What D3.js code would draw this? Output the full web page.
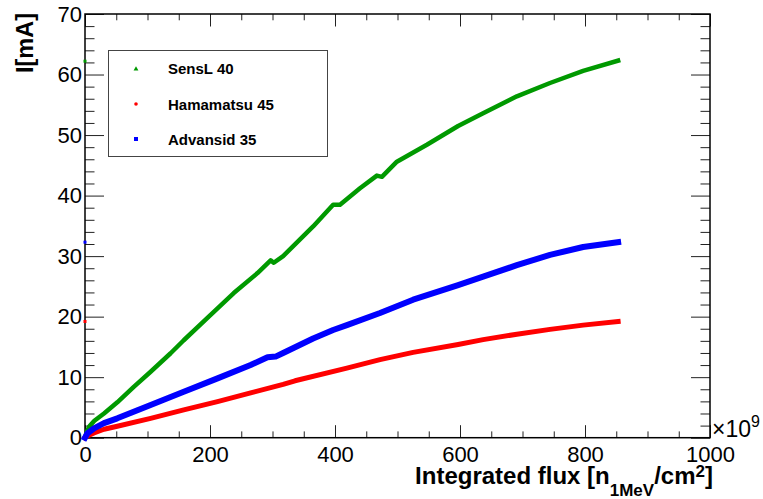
<!DOCTYPE html>
<html><head><meta charset="utf-8">
<script src="https://cdn.jsdelivr.net/npm/d3@7"></script>
<style>body{margin:0;background:#fff}svg{display:block}text{font-family:"Liberation Sans",Arial,Helvetica,sans-serif}</style>
</head><body>
<script>
// Data (flux in 1e9 n_1MeV/cm^2, current in mA)
const seriesNames = ["SensL 40", "Hamamatsu 45", "Advansid 35"];
const sensLFlux = [0, 3, 6.4, 15, 30.4, 51.7, 78, 105, 137, 158, 201, 238, 276, 297, 302, 317, 365, 397, 408, 440, 467, 475, 499, 547, 597, 637, 691, 744, 797, 853];
const sensLI    = [0, 1.0, 1.8, 2.8, 4.0, 5.85, 8.4, 10.9, 13.95, 16.1, 20.3, 23.9, 27.2, 29.3, 28.9, 30.0, 34.9, 38.5, 38.5, 41.2, 43.3, 43.1, 45.6, 48.4, 51.5, 53.6, 56.4, 58.6, 60.6, 62.3];
const hamaFlux  = [0, 3.7, 14.4, 30.4, 51.7, 105, 158, 212, 265, 317, 336, 419, 472, 525, 597, 637, 691, 744, 797, 853];
const hamaI     = [0, 0.3, 0.8, 1.4, 1.9, 3.2, 4.6, 5.95, 7.4, 8.8, 9.4, 11.5, 12.9, 14.1, 15.4, 16.2, 17.1, 17.9, 18.6, 19.2];
const advFlux   = [0, 3.7, 14.4, 30.4, 51.7, 105, 158, 212, 265, 292, 305, 317, 365, 397, 419, 472, 525, 597, 637, 691, 744, 797, 853];
const advI      = [0, 0.7, 1.55, 2.4, 3.2, 5.4, 7.6, 9.8, 12.0, 13.3, 13.4, 14.0, 16.4, 17.8, 18.6, 20.6, 22.8, 25.2, 26.6, 28.5, 30.2, 31.5, 32.3];
// stray single points drawn at zero flux
const strayI = [62.2, 19.2, 32.3];
const xTicks = [0, 200, 400, 600, 800, 1000];
const yTicks = [0, 10, 20, 30, 40, 50, 60, 70];

const W = 763, H = 499;
const colors = ["#009900", "#ff0000", "#0000ff"];
const widths = [4.5, 5, 6];

const svg = d3.select("body").append("svg").attr("width", W).attr("height", H);
const x = d3.scaleLinear().domain([0, 1000]).range([85, 710]);
const y = d3.scaleLinear().domain([0, 70]).range([437.7, 14]);
const x0 = x.range()[0], x1 = x.range()[1], y0 = y.range()[0], y1 = y.range()[1];

const xMinor = d3.range(0, 1001, 50).filter(v => v % 200 !== 0);
const yMinor = d3.range(0, 71, 2).filter(v => v % 10 !== 0);

function styleAxis(g) {
  g.select(".domain").remove();
  g.selectAll(".tick line").attr("stroke", "#222").attr("stroke-width", 1);
}
// bottom
svg.append("g").attr("transform", `translate(0,${y0})`)
  .call(d3.axisBottom(x).tickValues(xTicks).tickSizeInner(-12.5).tickSizeOuter(0).tickPadding(8.5).tickFormat(d3.format("d")))
  .call(styleAxis).call(g => g.selectAll("text").attr("font-size", 22).attr("fill", "#000").attr("font-family", null));
svg.append("g").attr("transform", `translate(0,${y0})`)
  .call(d3.axisBottom(x).tickValues(xMinor).tickSizeInner(-6.3).tickSizeOuter(0).tickFormat(""))
  .call(styleAxis);
// top
svg.append("g").attr("transform", `translate(0,${y1})`)
  .call(d3.axisTop(x).tickValues(xTicks).tickSizeInner(-12.5).tickSizeOuter(0).tickFormat(""))
  .call(styleAxis);
svg.append("g").attr("transform", `translate(0,${y1})`)
  .call(d3.axisTop(x).tickValues(xMinor).tickSizeInner(-6.3).tickSizeOuter(0).tickFormat(""))
  .call(styleAxis);
// left
svg.append("g").attr("transform", `translate(${x0},0)`)
  .call(d3.axisLeft(y).tickValues(yTicks).tickSizeInner(-19).tickSizeOuter(0).tickPadding(3).tickFormat(d3.format("d")))
  .call(styleAxis).call(g => g.selectAll("text").attr("font-size", 22).attr("fill", "#000").attr("font-family", null));
svg.append("g").attr("transform", `translate(${x0},0)`)
  .call(d3.axisLeft(y).tickValues(yMinor).tickSizeInner(-9.5).tickSizeOuter(0).tickFormat(""))
  .call(styleAxis);
// right
svg.append("g").attr("transform", `translate(${x1},0)`)
  .call(d3.axisRight(y).tickValues(yTicks).tickSizeInner(-19).tickSizeOuter(0).tickFormat(""))
  .call(styleAxis);
svg.append("g").attr("transform", `translate(${x1},0)`)
  .call(d3.axisRight(y).tickValues(yMinor).tickSizeInner(-9.5).tickSizeOuter(0).tickFormat(""))
  .call(styleAxis);

// frame
svg.append("rect").attr("x", x0).attr("y", y1).attr("width", x1 - x0).attr("height", y0 - y1)
  .attr("fill", "none").attr("stroke", "#000").attr("stroke-width", 1.5);

// curves
const data = [
  d3.zip(sensLFlux, sensLI),
  d3.zip(hamaFlux, hamaI),
  d3.zip(advFlux, advI)
];
const line = d3.line().x(d => x(d[0])).y(d => y(d[1]));
data.forEach((d, i) => {
  svg.append("path").attr("d", line(d)).attr("fill", "none")
    .attr("stroke", colors[i]).attr("stroke-width", widths[i])
    .attr("stroke-linejoin", "round").attr("stroke-linecap", "square");
});
// stray markers at zero flux
strayI.forEach((v, i) => {
  svg.append("rect").attr("x", x(0) - 1.5).attr("y", y(v) - 1.5).attr("width", 3).attr("height", 3).attr("fill", colors[i]);
});

// legend
const lg = svg.append("g");
lg.append("rect").attr("x", 108.5).attr("y", 50.5).attr("width", 219).attr("height", 106)
  .attr("fill", "#fff").attr("stroke", "#444").attr("stroke-width", 1);
const legY = [69, 104, 139];
const legBase = [73.5, 110, 144.5];
lg.append("path").attr("d", d3.symbol(d3.symbolTriangle, 10)()).attr("transform", `translate(136,${legY[0]})`).attr("fill", colors[0]);
lg.append("circle").attr("cx", 136).attr("cy", legY[1]).attr("r", 1.8).attr("fill", colors[1]);
lg.append("rect").attr("x", 134).attr("y", legY[2] - 2).attr("width", 4).attr("height", 4).attr("fill", colors[2]);
seriesNames.forEach((n, i) => {
  lg.append("text").attr("x", 168).attr("y", legBase[i]).attr("font-size", 15).attr("font-weight", "bold").text(n);
});

// x title
const xt = svg.append("text").attr("x", 713).attr("y", 484).attr("text-anchor", "end")
  .attr("font-size", 24).attr("font-weight", "bold");
xt.append("tspan").text("Integrated flux [n");
xt.append("tspan").attr("font-size", 17).attr("dy", 12).text("1MeV");
xt.append("tspan").attr("dy", -12).text("/cm");
xt.append("tspan").attr("font-size", 17).attr("dy", -7).text("2");
xt.append("tspan").attr("dy", 7).text("]");

// y title
svg.append("text").attr("transform", "translate(33,13) rotate(-90)").attr("text-anchor", "end")
  .attr("font-size", 23.5).attr("font-weight", "bold").text("I[mA]");

// exponent
const ex = svg.append("text").attr("x", 712).attr("y", 437).attr("font-size", 23);
ex.append("tspan").text("×10");
ex.append("tspan").attr("font-size", 16).attr("dy", -10).text("9");
</script>
</body></html>
